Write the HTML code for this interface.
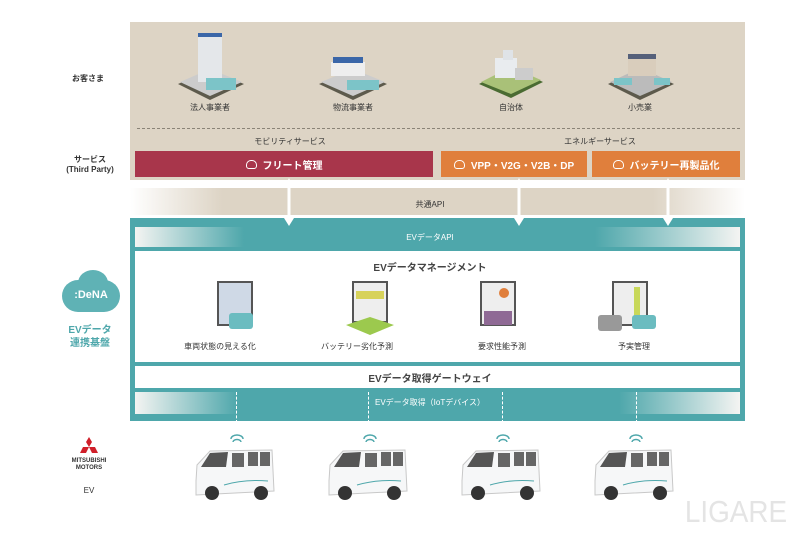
<!DOCTYPE html>
<html><head><meta charset="utf-8"><style>
*{margin:0;padding:0;box-sizing:border-box}
body{width:800px;height:533px;background:#fff;position:relative;overflow:hidden;font-family:"Liberation Sans","Noto Sans CJK JP",sans-serif;color:#333}
.a{position:absolute}
.t{position:absolute;font-size:8px;text-align:center;white-space:nowrap}
.bar{position:absolute;height:26px;color:#fff;font-size:10px;font-weight:bold;display:flex;align-items:center;justify-content:center}
.cl{display:inline-block;width:11px;height:9px;border:1.5px solid #fff;border-radius:5px 5px 3px 3px;margin-right:6px}
</style></head><body>
<div class="a" style="left:130px;top:22px;width:615px;height:158px;background:#ddd4c5"></div>
<div class="a" style="left:137px;top:128px;width:603px;border-top:1px dashed #8a8377"></div>
<div class="t" style="left:60px;top:73px;width:56px;font-weight:bold">お客さま</div>
<div class="t" style="left:55px;top:155px;width:70px;font-weight:bold;line-height:10px">サービス<br>(Third Party)</div>
<svg class="a" style="left:130px;top:22px" width="615" height="100">
<g transform="translate(80,0)"><polygon points="-32,62 0,48 34,62 0,78" fill="#5d5a4c"/><polygon points="-30,60 0,47 32,60 0,74" fill="#ccc"/><rect x="-12" y="14" width="24" height="46" fill="#e4e7ea"/><rect x="-12" y="11" width="24" height="4" fill="#3a66a8"/><rect x="-4" y="56" width="30" height="12" fill="#7cc4c8"/></g>
<g transform="translate(223,0)"><polygon points="-34,62 0,48 34,62 0,78" fill="#5d5a4c"/><polygon points="-32,60 0,47 32,60 0,74" fill="#ccc"/><rect x="-22" y="40" width="34" height="14" fill="#eee"/><rect x="-20" y="35" width="30" height="6" fill="#3a66a8"/><rect x="-6" y="58" width="32" height="10" fill="#7cc4c8"/></g>
<g transform="translate(381,0)"><polygon points="-32,62 0,45 32,60 0,76" fill="#4a6b32"/><polygon points="-30,60 0,45 30,58 0,72" fill="#a9c178"/><rect x="-16" y="36" width="22" height="20" fill="#e9ecef"/><rect x="-8" y="28" width="10" height="10" fill="#dfe3e7"/><rect x="4" y="46" width="18" height="12" fill="#ccc"/></g>
<g transform="translate(510,0)"><polygon points="-32,62 0,47 34,62 0,78" fill="#5d5a4c"/><polygon points="-30,60 0,46 32,60 0,74" fill="#bbb"/><rect x="-12" y="36" width="28" height="18" fill="#d9cdbc"/><rect x="-12" y="32" width="28" height="5" fill="#55607a"/><rect x="-26" y="56" width="18" height="7" fill="#7cc4c8"/><rect x="14" y="56" width="16" height="7" fill="#7cc4c8"/></g>
</svg>
<div class="t" style="left:180px;top:102px;width:60px">法人事業者</div>
<div class="t" style="left:323px;top:102px;width:60px">物流事業者</div>
<div class="t" style="left:481px;top:102px;width:60px">自治体</div>
<div class="t" style="left:610px;top:102px;width:60px">小売業</div>
<div class="t" style="left:250px;top:136px;width:80px">モビリティサービス</div>
<div class="t" style="left:560px;top:136px;width:80px">エネルギーサービス</div>
<div class="bar" style="left:135px;top:151px;width:298px;background:#a8364b"><span class="cl"></span>フリート管理</div>
<div class="bar" style="left:441px;top:151px;width:146px;background:#e07f3c"><span class="cl"></span>VPP・V2G・V2B・DP</div>
<div class="bar" style="left:592px;top:151px;width:148px;background:#e07f3c"><span class="cl"></span>バッテリー再製品化</div>
<div class="a" style="left:130px;top:188px;width:615px;height:27px;background:linear-gradient(90deg,#fff 0%,#ddd4c5 15%,#ddd4c5 85%,#fff 100%)"></div>
<div class="t" style="left:400px;top:199px;width:60px">共通API</div>
<div class="a" style="left:130px;top:218px;width:615px;height:203px;background:#4ea7ab"></div>
<div class="a" style="left:135px;top:227px;width:605px;height:20px;background:linear-gradient(90deg,#f4f4f2 0%,#4ea7ab 18%,#4ea7ab 76%,#f4f4f2 100%)"></div>
<div class="t" style="left:400px;top:232px;width:60px;color:#fff">EVデータAPI</div>
<div class="a" style="left:135px;top:251px;width:605px;height:111px;background:#fff"></div>
<div class="t" style="left:370px;top:259px;width:120px;font-size:10px;font-weight:bold;color:#444">EVデータマネージメント</div>
<svg class="a" style="left:135px;top:251px" width="605" height="111">
<g transform="translate(82,30)"><rect x="0" y="0" width="36" height="45" fill="#555"/><rect x="2" y="2" width="32" height="41" fill="#cfd9e6"/><rect x="12" y="32" width="24" height="16" rx="3" fill="#6bbcc0"/></g>
<g transform="translate(217,30)"><rect x="0" y="0" width="36" height="42" fill="#555"/><rect x="2" y="2" width="32" height="38" fill="#eee"/><rect x="4" y="10" width="28" height="8" fill="#d7d25a"/><polygon points="-6,44 18,36 42,44 18,54" fill="#9cc94e"/></g>
<g transform="translate(345,30)"><rect x="0" y="0" width="36" height="45" fill="#555"/><rect x="2" y="2" width="32" height="41" fill="#eee"/><circle cx="24" cy="12" r="5" fill="#e07f3c"/><rect x="4" y="30" width="28" height="14" fill="#8f6a95"/></g>
<g transform="translate(477,30)"><rect x="0" y="0" width="36" height="45" fill="#555"/><rect x="2" y="2" width="32" height="41" fill="#eee"/><rect x="22" y="6" width="6" height="30" fill="#c8d85a"/><rect x="-14" y="34" width="24" height="16" rx="3" fill="#999"/><rect x="20" y="34" width="24" height="14" rx="3" fill="#6bbcc0"/></g>
</svg>
<div class="t" style="left:180px;top:341px;width:80px">車両状態の見える化</div>
<div class="t" style="left:312px;top:341px;width:90px">バッテリー劣化予測</div>
<div class="t" style="left:462px;top:341px;width:80px">要求性能予測</div>
<div class="t" style="left:594px;top:341px;width:80px">予実管理</div>
<div class="a" style="left:135px;top:366px;width:605px;height:22px;background:#fff"></div>
<div class="t" style="left:360px;top:370px;width:140px;font-size:10px;font-weight:bold;color:#444">EVデータ取得ゲートウェイ</div>
<div class="a" style="left:135px;top:392px;width:605px;height:22px;background:linear-gradient(90deg,#f4f4f2 0%,#4ea7ab 17%,#4ea7ab 80%,#f4f4f2 100%)"></div>
<div class="t" style="left:375px;top:397px;width:110px;color:#fff">EVデータ取得（IoTデバイス）</div>
<div class="a" style="left:236px;top:392px;height:31px;border-left:1.5px dashed #fff"></div>
<div class="a" style="left:368px;top:392px;height:31px;border-left:1.5px dashed #fff"></div>
<div class="a" style="left:502px;top:392px;height:31px;border-left:1.5px dashed #fff"></div>
<div class="a" style="left:636px;top:392px;height:31px;border-left:1.5px dashed #fff"></div>
<svg class="a" style="left:0;top:0" width="800" height="240">
<g fill="#fff" stroke="#fff" stroke-width="3">
<line x1="289" y1="186" x2="289" y2="220"/><line x1="519" y1="186" x2="519" y2="220"/><line x1="668" y1="186" x2="668" y2="220"/></g>
<g fill="#fff"><polygon points="284,188 289,178 294,188"/><polygon points="514,188 519,178 524,188"/><polygon points="663,188 668,178 673,188"/>
<polygon points="284,218 289,226 294,218"/><polygon points="514,218 519,226 524,218"/><polygon points="663,218 668,226 673,218"/></g>
</svg>
<div class="a" style="left:62px;top:280px;width:58px;height:32px;background:#5fb2b5;border-radius:16px"></div>
<div class="a" style="left:78px;top:270px;width:30px;height:26px;background:#5fb2b5;border-radius:50%"></div>
<div class="t" style="left:62px;top:289px;width:58px;color:#fff;font-size:11px;font-weight:bold">:DeNA</div>
<div class="t" style="left:60px;top:324px;width:60px;color:#4ea7ab;font-size:10px;font-weight:bold;line-height:13px">EVデータ<br>連携基盤</div>
<svg class="a" style="left:78px;top:437px" width="22" height="20"><g fill="#d0202a"><polygon points="11,0 14,5 11,10 8,5"/><polygon points="8,10 11,10 8,16 2,16 5,10"/><polygon points="11,10 14,10 17,10 20,16 14,16"/></g></svg>
<div class="t" style="left:66px;top:458px;width:46px;font-size:6px;font-weight:bold;line-height:7px">MITSUBISHI<br>MOTORS</div>
<div class="t" style="left:76px;top:486px;width:26px">EV</div>
<svg class="a" style="left:0;top:425px" width="800" height="80">
<defs><g id="v">
<path d="M-3,6 a6,4 0 0 1 12,0" fill="none" stroke="#4ea7ab" stroke-width="1.5"/><path d="M-1,9 a4,2.5 0 0 1 8,0" fill="none" stroke="#4ea7ab" stroke-width="1.5"/>
<path d="M-38,48 L-37,32 L-24,18 L38,17 L40,58 L-38,62 Z" fill="#f6f7f8" stroke="#c8c8c8"/>
<polygon points="-24,20 -6,19 -8,34 -33,34" fill="#555"/><rect x="-2" y="20" width="12" height="14" fill="#666"/><rect x="14" y="19" width="10" height="14" fill="#666"/><rect x="26" y="19" width="10" height="14" fill="#666"/>
<circle cx="-22" cy="60" r="7" fill="#333"/><circle cx="27" cy="60" r="7" fill="#333"/><path d="M-10,52 q20,-6 44,-4" stroke="#4ea7ab" fill="none"/></g></defs>
<use href="#v" x="234" y="8"/><use href="#v" x="367" y="8"/><use href="#v" x="500" y="8"/><use href="#v" x="633" y="8"/>
</svg>
<div class="t" style="left:676px;top:494px;width:120px;font-size:31px;color:#e4e4e4;letter-spacing:0px;transform:scaleX(0.9)">LIGARE</div>
</body></html>
